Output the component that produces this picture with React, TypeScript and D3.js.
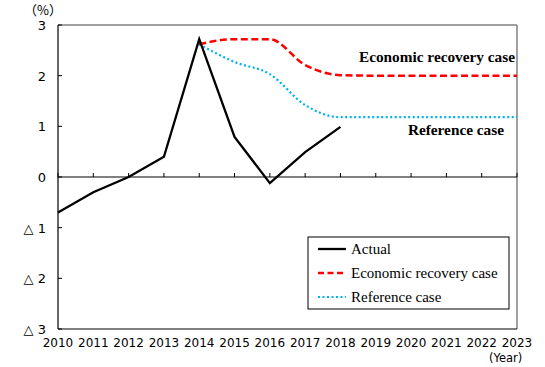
import React from "react";
import * as d3 from "d3";

const years = [2010, 2011, 2012, 2013, 2014, 2015, 2016, 2017, 2018, 2019, 2020, 2021, 2022, 2023];
const actualYears = [2010, 2011, 2012, 2013, 2014, 2015, 2016, 2017, 2018];
const actualValues = [-0.7, -0.3, 0.0, 0.4, 2.72, 0.79, -0.12, 0.49, 0.99];
const caseYears = [2014, 2015, 2016, 2017, 2018, 2019, 2020, 2021, 2022, 2023];
const recoveryValues = [2.62, 2.72, 2.72, 2.21, 2.01, 2.0, 2.0, 2.0, 2.0, 2.0];
const referenceValues = [2.62, 2.27, 2.03, 1.42, 1.18, 1.18, 1.18, 1.18, 1.18, 1.18];
const yTicks = [3, 2, 1, 0, -1, -2, -3];
const yTickLabels = ["3", "2", "1", "0", "△ 1", "△ 2", "△ 3"];

const W = 545, H = 367;
const left = 58, right = 517, top = 25, bottom = 329;

export default function App() {
  const x = d3.scaleLinear().domain([2010, 2023]).range([left, right]);
  const y = d3.scaleLinear().domain([-3, 3]).range([bottom, top]);
  const straight = d3.line<[number, number]>().x(d => x(d[0])).y(d => y(d[1]));
  const smooth = d3.line<[number, number]>().x(d => x(d[0])).y(d => y(d[1])).curve(d3.curveMonotoneX);
  const actual = actualYears.map((yr, i) => [yr, actualValues[i]] as [number, number]);
  const rec = caseYears.map((yr, i) => [yr, recoveryValues[i]] as [number, number]);
  const ref = caseYears.map((yr, i) => [yr, referenceValues[i]] as [number, number]);
  const sans = "'DejaVu Sans', sans-serif";
  const cjk = "'Noto Sans CJK JP', sans-serif";
  const serif = "'Liberation Serif', 'Times New Roman', serif";
  const lx = 308, ly = 237, lw = 201, lh = 72;
  return (
    <svg width={W} height={H} style={{ position: "absolute", left: 0, top: 0 }}>
      <rect width={W} height={H} fill="#fff" />
      {/* frame */}
      <line x1={left} x2={right} y1={top} y2={top} stroke="#808080" strokeWidth={1.5} />
      <line x1={right} x2={right} y1={top} y2={bottom} stroke="#808080" strokeWidth={1.5} />
      <line x1={left} x2={right} y1={bottom} y2={bottom} stroke="#000" strokeWidth={1.2} />
      <line x1={left} x2={left} y1={top} y2={bottom} stroke="#000" strokeWidth={1.2} />
      {/* zero axis */}
      <line x1={left} x2={right} y1={y(0)} y2={y(0)} stroke="#000" strokeWidth={1} />
      {years.map(yr => (
        <line key={"xt" + yr} x1={x(yr)} x2={x(yr)} y1={y(0)} y2={y(0) - 4} stroke="#000" strokeWidth={1} />
      ))}
      {yTicks.map(v => (
        <line key={"yt" + v} x1={left} x2={left + 4} y1={y(v)} y2={y(v)} stroke="#000" strokeWidth={1} />
      ))}
      {yTicks.map((v, i) => (
        <text key={"yl" + v} x={46} y={y(v) + 5} textAnchor="end" fontFamily={sans} fontSize={13} fill="#000">
          {yTickLabels[i]}
        </text>
      ))}
      {years.map(yr => (
        <text key={"xl" + yr} x={x(yr)} y={347} textAnchor="middle" fontFamily={sans} fontSize={12} fill="#000">
          {yr}
        </text>
      ))}
      <text x={24} y={15} fontFamily={cjk} fontSize={13} fill="#000">（%）</text>
      <text x={489} y={362} fontFamily={sans} fontSize={11.5} fill="#000">(Year)</text>
      {/* lines */}
      <path d={smooth(ref) || ""} fill="none" stroke="#00B0F0" strokeWidth={2.2} strokeDasharray="2,2.5" />
      <path d={smooth(rec) || ""} fill="none" stroke="#FF0000" strokeWidth={2.5} strokeDasharray="7,3.5" />
      <path d={straight(actual) || ""} fill="none" stroke="#000" strokeWidth={2.3} strokeLinejoin="miter" />
      {/* annotations */}
      <text x={515} y={62} textAnchor="end" fontFamily={serif} fontWeight="bold" fontSize={15.3} fill="#000">Economic recovery case</text>
      <text x={504} y={135} textAnchor="end" fontFamily={serif} fontWeight="bold" fontSize={15.3} fill="#000">Reference case</text>
      {/* legend */}
      <rect x={lx} y={ly} width={lw} height={lh} fill="#fff" stroke="#000" strokeWidth={1} />
      <line x1={318} x2={346} y1={249} y2={249} stroke="#000" strokeWidth={2.3} />
      <line x1={318} x2={346} y1={273} y2={273} stroke="#FF0000" strokeWidth={2.5} strokeDasharray="6,3.5" />
      <line x1={318} x2={346} y1={297} y2={297} stroke="#00B0F0" strokeWidth={2.2} strokeDasharray="2,2.5" />
      <text x={351} y={254} fontFamily={serif} fontSize={15} fill="#000">Actual</text>
      <text x={351} y={278} fontFamily={serif} fontSize={15} fill="#000">Economic recovery case</text>
      <text x={351} y={302} fontFamily={serif} fontSize={15} fill="#000">Reference case</text>
    </svg>
  );
}
